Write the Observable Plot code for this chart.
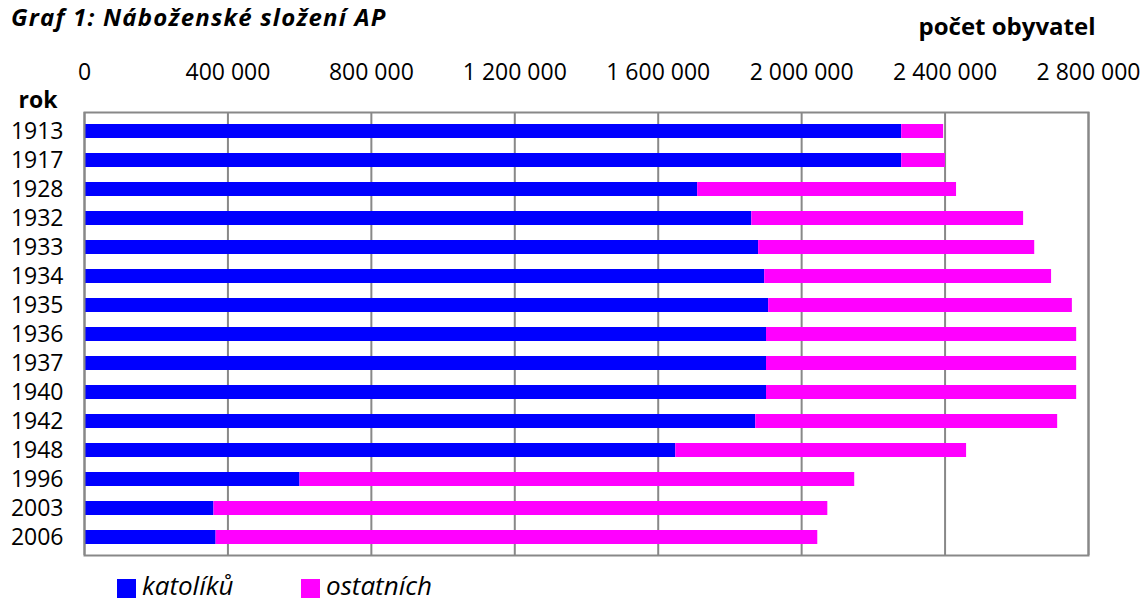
<!DOCTYPE html>
<html>
<head>
<meta charset="utf-8">
<script src="https://cdn.jsdelivr.net/npm/d3@7"></script>
<script src="https://cdn.jsdelivr.net/npm/@observablehq/plot@0.6"></script>
<style>
  body { margin: 0; background: #fff; font-family: "Open Sans", sans-serif; color: #000; }
  #wrap { position: relative; width: 1147px; height: 603px; overflow: hidden; }
  #title { position: absolute; left: 11px; top: 0px; font-weight: bold; font-style: italic; font-size: 24px; letter-spacing: 1.2px; line-height: normal; white-space: nowrap; }
  #chart { position: absolute; left: 0; top: 0; }
  .sw { position: absolute; width: 19px; height: 19px; top: 579px; }
  .lt { position: absolute; top: 572px; font-style: italic; font-size: 26px; line-height: 26px; white-space: nowrap; }
</style>
</head>
<body>
<div id="wrap">
  <div id="chart"></div>
  <div id="title">Graf 1: Náboženské složení AP</div>
  <div id="legend"></div>
</div>
<script>
// ---- data ----
const years = ["1913","1917","1928","1932","1933","1934","1935","1936","1937","1940","1942","1948","1996","2003","2006"];
const katoliku  = [2279000, 2279000, 1710000, 1861000, 1880000, 1897000, 1908000, 1902000, 1902000, 1902000, 1872000, 1649000, 601000, 361000, 367000];
const ostatnich = [117000, 122000, 722000, 758000, 770000, 800000, 847000, 865000, 865000, 865000, 842000, 811000, 1547000, 1712000, 1678000];
const seriesNames = ["katolíků", "ostatních"];
const seriesColors = ["#0000ff", "#ff00ff"];
const xTicks = [0, 400000, 800000, 1200000, 1600000, 2000000, 2400000, 2800000];
const xLabel = "počet obyvatel";
const yLabel = "rok";

const fmt = d3.formatLocale({decimal: ",", thousands: " ", grouping: [3], currency: ["", ""]}).format(",d");

const data = years.flatMap((r, i) => [
  {rok: r, typ: seriesNames[0], pocet: katoliku[i]},
  {rok: r, typ: seriesNames[1], pocet: ostatnich[i]}
]);

const chart = Plot.plot({
  width: 1147,
  height: 570,
  marginTop: 112,
  marginBottom: 15,
  marginLeft: 84,
  marginRight: 59,
  style: {fontFamily: "'Open Sans', sans-serif", fontSize: "23px", color: "#000", background: "transparent", overflow: "visible"},
  x: {domain: [0, 2800000], axis: null},
  y: {domain: years, type: "band", paddingInner: 0.525, paddingOuter: 0.2625, axis: null},
  color: {domain: seriesNames, range: seriesColors},
  marks: [
    Plot.gridX(xTicks, {stroke: "#888", strokeOpacity: 1, strokeWidth: 2}),
    Plot.barX(data, {x: "pocet", y: "rok", fill: "typ"}),
    Plot.frame({stroke: "#888", strokeWidth: 2}),
    Plot.axisX(xTicks, {anchor: "top", tickSize: 0, tickPadding: 33, tickFormat: fmt, label: null, fontSize: 23, fill: "#000"}),
    Plot.axisY({anchor: "left", tickSize: 0, tickPadding: 21, label: null, fontSize: 23, fill: "#000"}),
    Plot.text([xLabel], {frameAnchor: "top-right", textAnchor: "end", lineAnchor: "top", dx: 7, dy: -95, fontWeight: "bold", fontSize: 24, fill: "#000"}),
    Plot.text([yLabel], {frameAnchor: "top-left", textAnchor: "start", lineAnchor: "top", dx: -66, dy: -21, fontWeight: "bold", fontSize: 23, fill: "#000"})
  ]
});
document.getElementById("chart").appendChild(chart);

// legend
const legend = document.getElementById("legend");
const swX = [117, 301];
seriesNames.forEach((name, i) => {
  const sw = document.createElement("div");
  sw.className = "sw";
  sw.style.left = swX[i] + "px";
  sw.style.background = seriesColors[i];
  legend.appendChild(sw);
  const t = document.createElement("div");
  t.className = "lt";
  t.style.left = (swX[i] + 25) + "px";
  t.textContent = name;
  legend.appendChild(t);
});
</script>
</body>
</html>
